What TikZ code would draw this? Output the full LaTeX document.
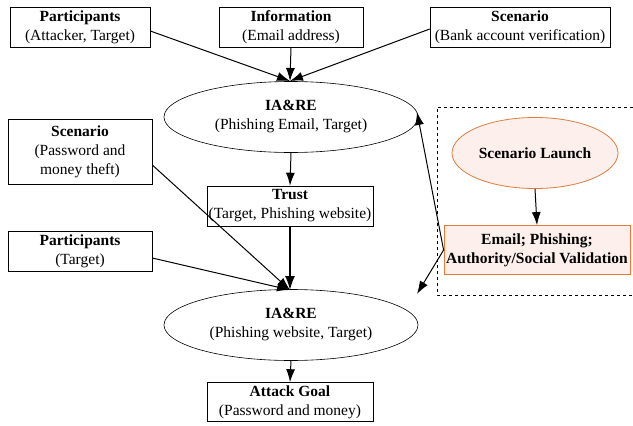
\documentclass[tikz,border=0pt]{standalone}
\usepackage{fontspec}
\setmainfont{Liberation Serif}
\usetikzlibrary{arrows.meta,shapes.geometric}
\definecolor{accent}{RGB}{222,125,60}
\definecolor{softfill}{RGB}{253,240,236}
\begin{document}
\begin{tikzpicture}[x=1pt,y=-1pt,
  every node/.style={font=\fontsize{15.5}{19}\selectfont, align=center, inner sep=0pt},
  infobox/.style={draw, line width=0.6pt, minimum height=40pt},
  state/.style={draw, ellipse, line width=0.6pt, minimum width=254pt, minimum height=71pt},
  hot/.style={draw=accent, line width=0.8pt, fill=softfill},
  link/.style={line width=1pt, -{Latex[length=13pt,width=9pt]}},
  boldlink/.style={line width=1.6pt, -{Latex[length=14pt,width=10pt]}}]
\useasboundingbox (0,0) rectangle (633,426);
\fill[white] (0,0) rectangle (633,426);

% top row of inputs
\node[infobox, minimum width=140pt] (part1) at (80,27) {\textbf{Participants}\\(Attacker, Target)};
\node[infobox, minimum width=144pt] (info) at (291,27) {\textbf{Information}\\(Email address)};
\node[infobox, minimum width=180pt] (scen1) at (520,27) {\textbf{Scenario}\\(Bank account verification)};

% first interaction state
\node[state] (iare1) at (291,117) {\textbf{IA\&RE}\\(Phishing Email, Target)};

% left inputs
\node[infobox, minimum width=144pt, minimum height=65pt] (scen2) at (80,152) {\textbf{Scenario}\\(Password and\\money theft)};
\node[infobox, minimum width=166pt] (trust) at (290,206) {\textbf{Trust}\\(Target, Phishing website)};
\node[infobox, minimum width=144pt] (part2) at (80,251) {\textbf{Participants}\\(Target)};

% second interaction state and goal
\node[state] (iare2) at (291,325) {\textbf{IA\&RE}\\(Phishing website, Target)};
\node[infobox, minimum width=166pt, minimum height=39pt] (goal) at (290,402) {\textbf{Attack Goal}\\(Password and money)};

% scenario launch panel
\draw[dashed, line width=0.6pt] (645,107) -- (437,107) -- (437,295) -- (645,295);
\node[state, hot, minimum width=166pt, minimum height=71pt] (launch) at (535,153) {\textbf{Scenario Launch}};
\node[infobox, hot, minimum width=186pt, minimum height=49pt] (email) at (537,250) {\textbf{Email; Phishing;}\\\textbf{Authority/Social Validation}};

% connectors
\coordinate (top1) at (290,81);
\coordinate (top2) at (290,290);
\draw[link] (part1.east |- 0,31) -- (top1);
\draw[link] (info.south) -- (top1);
\draw[link] (scen1.west |- 0,29) -- (top1);
\draw[link] (iare1.south) -- (trust.north);
\draw[link] (scen2.east |- 0,165) -- (top2);
\draw[link] (part2.east |- 0,258) -- (top2);
\draw[boldlink] (trust.south) -- (top2);
\draw[link] (iare2.south) -- (goal.north);
\draw[link] (launch.south) -- (email.north);
\draw[link] (email.west) -- (417,112);
\draw[link] (email.west) -- (417,294);
\end{tikzpicture}
\end{document}
